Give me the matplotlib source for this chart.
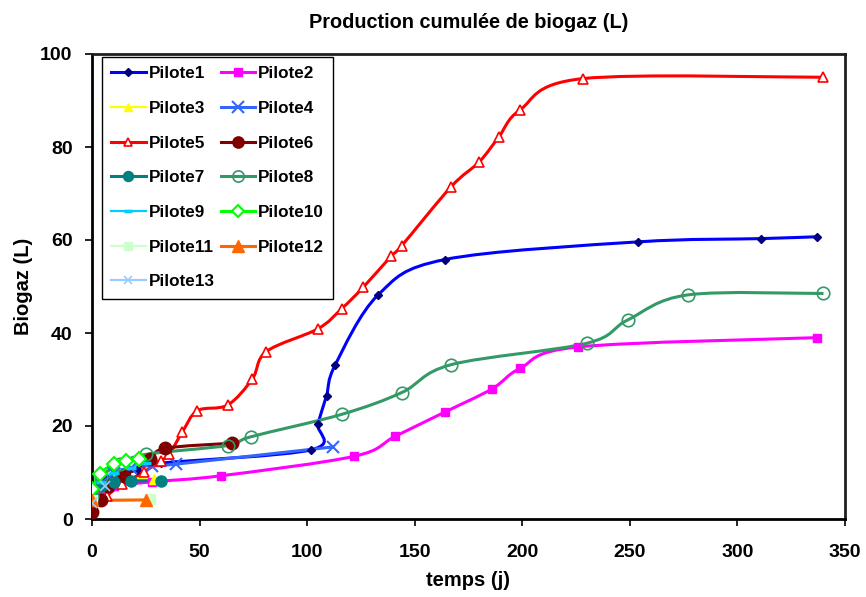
import numpy as np
import matplotlib
matplotlib.use("Agg")
import matplotlib.pyplot as plt
from matplotlib.path import Path
from matplotlib.patches import PathPatch
from matplotlib.lines import Line2D

# ---- data ----
names = [f"Pilote{i}" for i in range(1, 14)]

x1 = [0, 4, 7, 10, 14, 21, 32, 102, 105, 109, 113, 133, 164, 254, 311, 337]
y1 = [4.5, 7.5, 8.5, 9.5, 10, 10.5, 12, 14.9, 20.5, 26.5, 33.1, 48.2, 55.8, 59.6, 60.3, 60.7]
x2 = [0, 4, 10, 28, 60, 122, 141, 164, 186, 199, 226, 337]
y2 = [3, 6, 7.1, 8.0, 9.3, 13.5, 17.8, 23.0, 28.0, 32.4, 37.0, 39.0]
x3 = [0, 4, 10, 28.8]
y3 = [3.5, 7, 8.5, 8.5]
x4 = [0, 4, 10, 18, 28, 39, 112]
y4 = [3, 7.5, 10, 11, 11.5, 11.8, 15.5]
x5 = [0, 7, 14, 24, 32, 36, 42, 49, 63, 74.5, 81, 105, 116, 126, 139, 144, 167, 180, 189, 199, 228, 340]
y5 = [2, 5, 7.5, 10.1, 12.5, 14, 18.7, 23.3, 24.5, 30.1, 36, 40.9, 45.2, 49.8, 56.5, 58.8, 71.5, 76.8, 82.1, 88, 94.7, 95]
x6 = [0, 4, 7.6, 15, 27, 34, 65]
y6 = [1.4, 4, 7, 9.2, 12.8, 15.2, 16.3]
x7 = [0, 4, 10, 18, 32]
y7 = [4.5, 7, 8, 8.2, 8.2]
x8 = [0, 4, 13, 25, 63, 74, 116, 144, 167, 230, 249, 277, 340]
y8 = [5, 9, 11.8, 13.9, 15.8, 17.7, 22.5, 27.2, 33.2, 37.8, 42.8, 48.2, 48.5]
x9 = [0, 4, 10, 18, 25]
y9 = [5, 8, 10, 11, 12]
x10 = [0, 3.6, 10, 16, 22]
y10 = [6.4, 9.7, 11.8, 12.5, 13.0]
x11 = [0, 27]
y11 = [4, 4.2]
x12 = [0, 25]
y12 = [4, 4.1]
x13 = [0, 6]
y13 = [3.4, 7.0]

xs = [x1, x2, x3, x4, x5, x6, x7, x8, x9, x10, x11, x12, x13]
ys = [y1, y2, y3, y4, y5, y6, y7, y8, y9, y10, y11, y12, y13]

xticks = [0, 50, 100, 150, 200, 250, 300, 350]
yticks = [0, 20, 40, 60, 80, 100]

# ---- styles ----
styles = [
    dict(color="#0000FF", marker="D", ms=4.5, mfc="#000080", mec="#000080", lw=2.2),
    dict(color="#FF00FF", marker="s", ms=6, mfc="#FF00FF", mec="#FF00FF", lw=2.2),
    dict(color="#FFFF00", marker="^", ms=7, mfc="#FFFF00", mec="#FFFF00", lw=1.6),
    dict(color="#3366FF", marker="x", ms=9, mfc="#3366FF", mec="#3366FF", lw=2.2, mew=1.5),
    dict(color="#FF0000", marker="^", ms=7, mfc="white", mec="#FF0000", lw=2.2, mew=1.2),
    dict(color="#800000", marker="o", ms=9, mfc="#800000", mec="#800000", lw=2.2),
    dict(color="#008080", marker="o", ms=8, mfc="#008080", mec="#008080", lw=2.2),
    dict(color="#339966", marker="o", ms=9, mfc="none", mec="#339966", lw=2.2, mew=1.2),
    dict(color="#00CCFF", marker="_", ms=7, mfc="#00CCFF", mec="#00CCFF", lw=1.6, mew=2.5),
    dict(color="#00FF00", marker="D", ms=7, mfc="white", mec="#00FF00", lw=2.2, mew=1.5),
    dict(color="#CCFFCC", marker="s", ms=7, mfc="#CCFFCC", mec="#CCFFCC", lw=1.6),
    dict(color="#FF6600", marker="^", ms=9, mfc="#FF6600", mec="#FF6600", lw=2.2),
    dict(color="#99CCFF", marker="x", ms=7, mfc="#99CCFF", mec="#99CCFF", lw=1.6, mew=1.2),
]

FAM = ["Liberation Sans", "DejaVu Sans"]
bold = dict(fontfamily=FAM, fontweight="bold")


def smooth_path(x, y):
    x = np.asarray(x, float)
    y = np.asarray(y, float)
    P = np.column_stack([x, y])
    n = len(P)
    if n < 3:
        return Path(P, [Path.MOVETO] + [Path.LINETO] * (n - 1))
    verts = [P[0]]
    codes = [Path.MOVETO]
    for i in range(n - 1):
        p0 = P[i - 1] if i > 0 else P[i]
        p1 = P[i]
        p2 = P[i + 1]
        p3 = P[i + 2] if i + 2 < n else P[i + 1]
        c1 = p1 + (p2 - p0) / 6.0
        c2 = p2 - (p3 - p1) / 6.0
        verts += [c1, c2, p2]
        codes += [Path.CURVE4] * 3
    return Path(np.array(verts), codes)


fig = plt.figure(figsize=(8.66, 5.97), dpi=100)
ax = fig.add_axes([92 / 866, 1 - 519 / 597, (845 - 92) / 866, (519 - 54) / 597])

handles = []
for i in range(13):
    st = styles[i]
    patch = PathPatch(smooth_path(xs[i], ys[i]), facecolor="none",
                      edgecolor=st["color"], lw=st["lw"], zorder=2 + i * 0.01)
    ax.add_patch(patch)
    ax.plot(xs[i], ys[i], linestyle="none", marker=st["marker"], ms=st["ms"],
            mfc=st["mfc"], mec=st["mec"], mew=st.get("mew", 1.0), zorder=3 + i * 0.01)
    handles.append(Line2D([], [], color=st["color"], lw=st["lw"], marker=st["marker"],
                          ms=st["ms"] * 0.9, mfc=st["mfc"], mec=st["mec"],
                          mew=st.get("mew", 1.0), label=names[i]))

ax.set_xlim(0, 350)
ax.set_ylim(0, 100)
ax.set_xticks(xticks)
ax.set_yticks(yticks)
ax.set_xticklabels([str(v) for v in xticks], **bold, fontsize=14)
ax.set_yticklabels([str(v) for v in yticks], **bold, fontsize=14)
ax.tick_params(direction="out", length=5, width=1.2)
ax.tick_params(axis="x", pad=13)
ax.tick_params(axis="y", pad=9)
for s in ["left", "bottom"]:
    ax.spines[s].set_linewidth(2.0)
    ax.spines[s].set_color("black")
for s in ["top", "right"]:
    ax.spines[s].set_linewidth(2.0)
    ax.spines[s].set_color("#202020")

ax.set_xlabel("temps (j)", fontsize=14.5, labelpad=7, **bold)
ax.set_ylabel("Biogaz (L)", fontsize=14.5, labelpad=5, **bold)
fig.text((92 + 845) / 2 / 866, 1 - 22 / 597, "Production cumulée de biogaz (L)",
         ha="center", va="center", fontsize=14.3, **bold)

order = [0, 2, 4, 6, 8, 10, 12, 1, 3, 5, 7, 9, 11]
leg = ax.legend([handles[k] for k in order], [names[k] for k in order], ncol=2,
                loc="upper left", bbox_to_anchor=(0.0133, 0.9935), borderaxespad=0,
                fancybox=False, edgecolor="black", framealpha=1, handlelength=2.0,
                labelspacing=1.15, columnspacing=0.35, handletextpad=0.18,
                borderpad=0.55, prop=dict(family=FAM, weight="bold", size=12.3))
leg.get_frame().set_linewidth(1.0)

fig.savefig("out.png", dpi=100)
